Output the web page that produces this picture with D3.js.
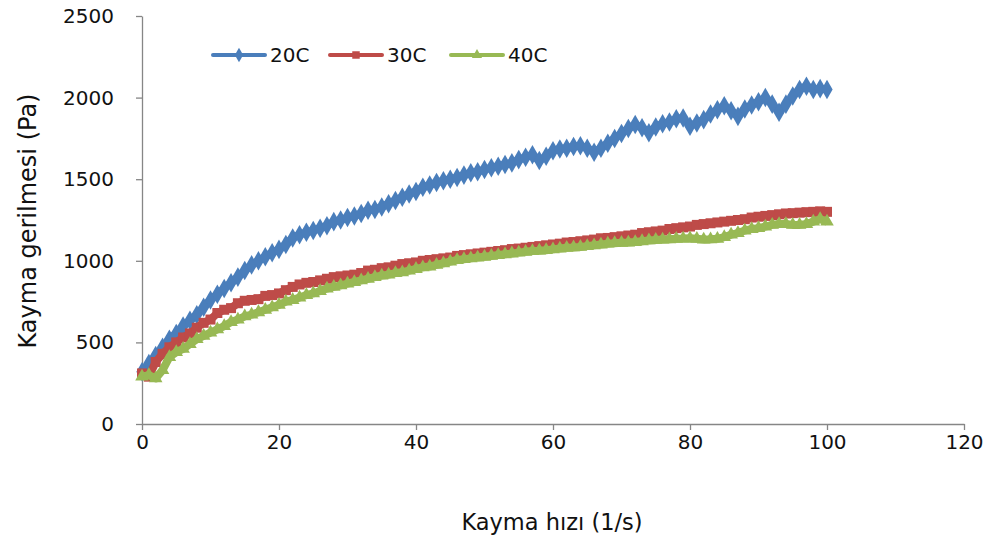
<!DOCTYPE html>
<html lang="tr">
<head>
<meta charset="utf-8">
<style>
    body { margin: 0; background: #fff; }
    #chart { display: block; }
    .tick text { font-family: "DejaVu Sans", sans-serif; font-size: 20px; fill: #111; }
    .axis path, .axis line { stroke: #868686; stroke-width: 1.3px; }
    .title { font-family: "DejaVu Sans", sans-serif; fill: #111; }
    .legend text { font-family: "DejaVu Sans", sans-serif; font-size: 20px; fill: #111; }
</style>
</head>
<body>
<svg id="chart" width="998" height="545"></svg>
<script src="https://cdn.jsdelivr.net/npm/d3@7"></script>
<script>

    // shear rate (1/s), same for all three runs
    var shearRate = d3.range(0, 101);

    var stress20 = [320, 370, 420, 470, 520, 555, 600, 635, 670, 715,
        760, 795, 830, 865, 900, 940, 975, 1000, 1025, 1050,
        1070, 1100, 1140, 1160, 1175, 1185, 1200, 1215, 1240, 1250,
        1265, 1275, 1290, 1310, 1315, 1330, 1350, 1370, 1390, 1410,
        1425, 1450, 1465, 1480, 1490, 1500, 1510, 1525, 1540, 1545,
        1560, 1570, 1580, 1590, 1600, 1620, 1635, 1650, 1615, 1640,
        1675, 1685, 1690, 1700, 1705, 1690, 1665, 1690, 1720, 1750,
        1780, 1810, 1835, 1815, 1785, 1820, 1840, 1850, 1870, 1875,
        1825, 1845, 1865, 1900, 1925, 1950, 1920, 1885, 1930, 1955,
        1975, 2000, 1960, 1910, 1960, 2010, 2050, 2070, 2050, 2055,
        2050];

    var stress30 = [310, 290, 380, 430, 470, 500, 530, 555, 590, 620,
        640, 680, 700, 710, 740, 755, 760, 765, 785, 790,
        800, 820, 840, 855, 865, 870, 880, 890, 900, 905,
        910, 915, 925, 940, 945, 955, 960, 970, 980, 985,
        990, 1000, 1005, 1010, 1015, 1020, 1030, 1035, 1040, 1045,
        1050, 1055, 1060, 1065, 1072, 1075, 1080, 1085, 1090, 1095,
        1100, 1105, 1112, 1115, 1120, 1125, 1130, 1138, 1140, 1145,
        1150, 1155, 1160, 1170, 1175, 1180, 1185, 1195, 1200, 1205,
        1210, 1220, 1225, 1230, 1235, 1240, 1245, 1250, 1255, 1265,
        1270, 1275, 1280, 1285, 1290, 1292, 1295, 1298, 1300, 1303,
        1300];

    var stress40 = [290, 300, 280, 330, 410, 440, 460, 490, 520, 540,
        560, 580, 600, 625, 640, 660, 670, 685, 700, 715,
        730, 750, 760, 775, 790, 800, 815, 830, 840, 850,
        860, 870, 880, 890, 900, 910, 915, 925, 930, 940,
        950, 960, 965, 975, 985, 995, 1005, 1010, 1015, 1020,
        1025, 1030, 1035, 1040, 1045, 1050, 1055, 1060, 1062, 1065,
        1070, 1075, 1080, 1082, 1085, 1090, 1095, 1100, 1105, 1108,
        1110, 1112, 1115, 1120, 1125, 1128, 1130, 1132, 1135, 1136,
        1138, 1135, 1130, 1132, 1135, 1145, 1160, 1170, 1185, 1195,
        1200, 1210, 1220, 1225, 1225, 1220, 1220, 1225, 1240, 1255,
        1240];

    var seriesNames = ["20C", "30C", "40C"];
    var seriesColors = ["#4a7ebb", "#be4b48", "#98b954"];
    var seriesSymbols = [d3.symbolDiamond, d3.symbolSquare, d3.symbolTriangle];
    var legendSizes = [60, 56, 45];
    var plotSizes = [110, 100, 80];

    var xTicks = [0, 20, 40, 60, 80, 100, 120];
    var yTicks = [0, 500, 1000, 1500, 2000, 2500];

    var svg = d3.select("#chart");
    var plotL = 142, plotR = 964, plotT = 16, plotB = 424;

    var x = d3.scaleLinear().domain([0, 120]).range([plotL, plotR]);
    var y = d3.scaleLinear().domain([0, 2500]).range([plotB, plotT]);

    svg.append("g")
        .attr("class", "axis")
        .attr("transform", "translate(0," + plotB + ")")
        .call(d3.axisBottom(x).tickValues(xTicks).tickFormat(d3.format("d")).tickSize(6).tickSizeOuter(0).tickPadding(4))
        .selectAll(".tick text").attr("dy", "0.75em");

    svg.append("g")
        .attr("class", "axis")
        .attr("transform", "translate(" + plotL + ",0)")
        .call(d3.axisLeft(y).tickValues(yTicks).tickFormat(d3.format("d")).tickSize(6).tickSizeOuter(0).tickPadding(22));

    svg.append("text").attr("class", "title")
        .attr("x", (plotL + plotR) / 2 - 1).attr("y", 530)
        .attr("text-anchor", "middle").attr("font-size", 22.5)
        .text("Kayma hızı (1/s)");

    svg.append("text").attr("class", "title")
        .attr("transform", "translate(36,221) rotate(-90)")
        .attr("text-anchor", "middle").attr("font-size", 24)
        .text("Kayma gerilmesi (Pa)");

    var allSeries = [stress20, stress30, stress40];

    var line = d3.line()
        .x(function (d, i) { return x(shearRate[i]); })
        .y(function (d) { return y(d); });

    allSeries.forEach(function (vals, k) {
        var g = svg.append("g");
        g.append("path")
            .datum(vals)
            .attr("fill", "none")
            .attr("stroke", seriesColors[k])
            .attr("stroke-width", 8)
            .attr("stroke-linejoin", "round")
            .attr("d", line);
        g.selectAll("path.mark")
            .data(vals)
            .enter().append("path")
            .attr("class", "mark")
            .attr("d", d3.symbol().type(seriesSymbols[k]).size(plotSizes[k]))
            .attr("fill", seriesColors[k])
            .attr("transform", function (d, i) { return "translate(" + x(shearRate[i]) + "," + y(d) + ")"; });
    });

    // legend
    var legendX = [213, 330, 451];
    var legend = svg.append("g").attr("class", "legend");
    seriesNames.forEach(function (name, k) {
        var lx = legendX[k];
        legend.append("line")
            .attr("x1", lx).attr("x2", lx + 52)
            .attr("y1", 55).attr("y2", 55)
            .attr("stroke", seriesColors[k]).attr("stroke-width", 4)
            .attr("stroke-linecap", "round");
        legend.append("path")
            .attr("d", d3.symbol().type(seriesSymbols[k]).size(legendSizes[k]))
            .attr("fill", seriesColors[k])
            .attr("transform", "translate(" + (lx + 26) + ",55)");
        legend.append("text")
            .attr("x", lx + 57).attr("y", 62)
            .text(name);
    });

</script>
</body>
</html>
